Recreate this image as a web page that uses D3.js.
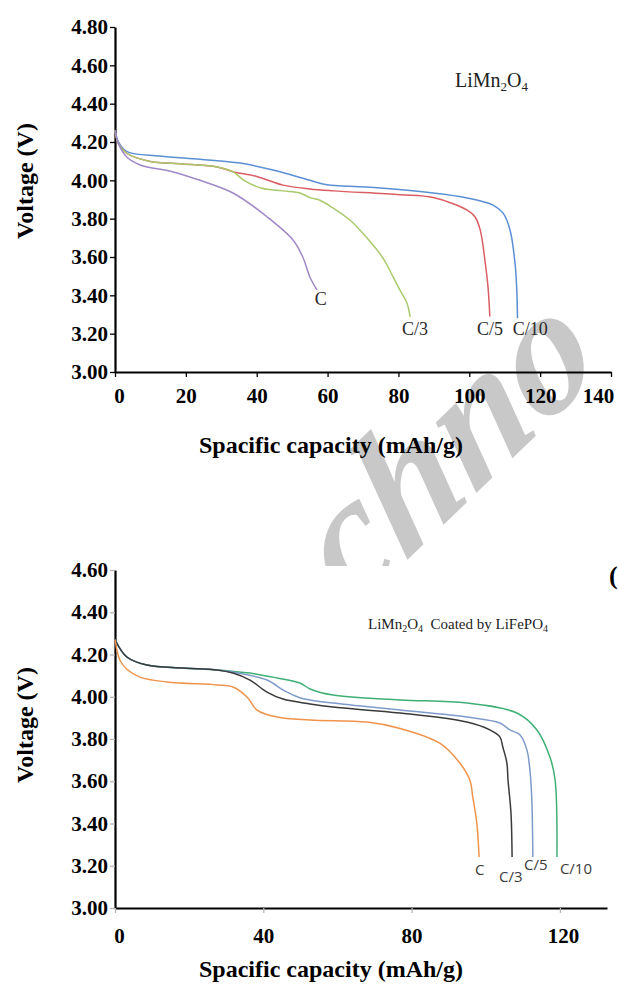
<!DOCTYPE html>
<html lang="en">
<head>
<meta charset="UTF-8">
<title>Discharge curves</title>
<script src="https://d3js.org/d3.v7.min.js"></script>
<style>
  body{margin:0;background:#fff;}
  svg text{font-family:"Liberation Serif","Times New Roman",serif;}
  .tick text{font-weight:bold;font-size:21px;fill:#000;}
  .axis-title{font-weight:bold;font-size:24px;fill:#000;}
</style>
</head>
<body>
<svg id="chart" width="618" height="995"></svg>
<script>
// ---- top panel: LiMn2O4 ----
const topCapC10 = [0, 1, 3.4, 12.7, 24, 35.3, 44.6, 55, 59.8, 71.1, 89.8, 99.4, 106.7, 109.5, 111.5, 112.9, 113.4, 113.6];
const topVC10   = [4.26, 4.20, 4.15, 4.127, 4.11, 4.09, 4.054, 4.0, 3.977, 3.965, 3.934, 3.908, 3.871, 3.83, 3.741, 3.569, 3.43, 3.28];
const topCapC5  = [0, 1, 3.4, 9.6, 19.2, 28.8, 33.3, 40, 47.4, 55, 61.7, 80.4, 89.8, 99.4, 101.6, 103.1, 104.5, 105.3, 105.8];
const topVC5    = [4.26, 4.19, 4.14, 4.10, 4.085, 4.07, 4.045, 4.02, 3.975, 3.955, 3.945, 3.925, 3.91, 3.845, 3.81, 3.74, 3.57, 3.44, 3.29];
const topCapC3  = [0, 1, 3.4, 9.6, 19.2, 28.8, 33.3, 36.4, 41.2, 47.4, 52.2, 55, 58, 61.5, 66.3, 71.1, 75.6, 78.5, 80.4, 82.4, 83.3];
const topVC3    = [4.26, 4.19, 4.14, 4.10, 4.085, 4.07, 4.045, 4.0, 3.96, 3.945, 3.934, 3.91, 3.895, 3.856, 3.793, 3.70, 3.595, 3.496, 3.428, 3.36, 3.287];
const topCapC1  = [0, 1, 3.4, 7.1, 16.4, 24, 33.3, 42.9, 50.2, 53, 55, 57];
const topVC1    = [4.26, 4.19, 4.12, 4.08, 4.044, 4.0, 3.934, 3.81, 3.69, 3.60, 3.496, 3.428];
const topYTicks = [3.0, 3.2, 3.4, 3.6, 3.8, 4.0, 4.2, 4.4, 4.6, 4.8];
const topXTicks = [0, 20, 40, 60, 80, 100, 120, 140];

// ---- bottom panel: LiMn2O4 coated by LiFePO4 ----
const botCapC10 = [0, 3.2, 8.6, 18.3, 27.5, 36.4, 43.7, 49.9, 52.6, 58.8, 76.9, 94.9, 108.4, 113.8, 117.3, 118.7, 119.2];
const botVC10   = [4.27, 4.188, 4.15, 4.136, 4.127, 4.112, 4.089, 4.065, 4.037, 4.008, 3.985, 3.97, 3.923, 3.843, 3.715, 3.606, 3.241];
const botCapC5  = [0, 3.2, 8.6, 18.3, 27.5, 31.8, 41, 45.5, 49.9, 52.6, 58.8, 76.9, 94.9, 103.8, 106.5, 109.2, 111.1, 111.9, 112.4, 112.7];
const botVC5    = [4.27, 4.188, 4.15, 4.136, 4.127, 4.117, 4.079, 4.03, 3.995, 3.985, 3.97, 3.937, 3.904, 3.876, 3.843, 3.82, 3.748, 3.653, 3.525, 3.241];
const botCapC3  = [0, 3.2, 8.6, 18.3, 27.5, 31.8, 36.4, 41, 45.3, 52.6, 58.8, 76.9, 94.9, 101.1, 103.8, 104.6, 105.7, 106, 106.8, 107.1];
const botVC3    = [4.27, 4.188, 4.15, 4.136, 4.127, 4.112, 4.079, 4.022, 3.989, 3.966, 3.951, 3.923, 3.88, 3.843, 3.81, 3.762, 3.686, 3.606, 3.45, 3.241];
const botCapC1  = [0, 1.3, 3.2, 6.7, 14, 27.5, 31.8, 35.6, 38.3, 43.7, 52.6, 68, 76.9, 87.6, 93, 95.7, 96.5, 97.6, 98.2];
const botVC1    = [4.27, 4.174, 4.13, 4.093, 4.07, 4.056, 4.046, 3.999, 3.937, 3.904, 3.89, 3.88, 3.85, 3.78, 3.686, 3.606, 3.525, 3.40, 3.241];
const botYTicks = [3.0, 3.2, 3.4, 3.6, 3.8, 4.0, 4.2, 4.4, 4.6];
const botXTicks = [0, 40, 80, 120];

const rateNames = ["C/10", "C/5", "C/3", "C"];

const svg = d3.select("#chart");

// watermark (behind everything, cut off where the lower figure starts)
svg.append("clipPath").attr("id", "wmclip")
  .append("rect").attr("x", 0).attr("y", 0).attr("width", 618).attr("height", 566);
svg.append("g").attr("clip-path", "url(#wmclip)")
  .append("text")
  .attr("transform", "translate(350,615) rotate(-44) skewX(-10)")
  .style("font-style", "italic")
  .style("font-weight", "bold")
  .style("font-size", "172px")
  .attr("fill", "#c8c8c8")
  .text("chno");

function drawPanel(opt) {
  const g = svg.append("g");
  const x = d3.scaleLinear().domain(opt.xDomain).range(opt.xRange);
  const y = d3.scaleLinear().domain(opt.yDomain).range(opt.yRange);

  //axes
  const yAxis = g.append("g")
    .attr("transform", `translate(${opt.xRange[0]},0)`)
    .call(d3.axisLeft(y).tickValues(opt.yTicks).tickFormat(d3.format(".2f"))
      .tickSize(5).tickSizeOuter(0).tickPadding(2));
  const xAxis = g.append("g")
    .attr("transform", `translate(0,${opt.yRange[0]})`)
    .call(d3.axisBottom(x).tickValues(opt.xTicks).tickFormat(d3.format("d"))
      .tickSize(5).tickSizeOuter(0).tickPadding(opt.xPad));
  [yAxis, xAxis].forEach(a => {
    a.select(".domain").attr("stroke", "#000").attr("stroke-width", 2.2);
    a.selectAll(".tick line").attr("stroke", opt.tickColor).attr("stroke-width", 1.3);
  });
  // nudge first/last x labels like the original
  xAxis.selectAll(".tick text").filter(d => d === 0).attr("dx", 4);
  if (opt.lastLabelShift) {
    xAxis.selectAll(".tick text").filter(d => d === opt.xTicks[opt.xTicks.length - 1]).attr("dx", opt.lastLabelShift);
  }

  //curves
  const line = d3.line().x(d => x(d[0])).y(d => y(d[1])).curve(d3.curveCatmullRom.alpha(0.5));
  opt.series.forEach(s => {
    g.append("path")
      .datum(d3.zip(s.cap, s.v))
      .attr("fill", "none")
      .attr("stroke", s.color)
      .attr("stroke-width", 1.5)
      .attr("d", line);
    g.append("text")
      .attr("x", x(s.at[0]))
      .attr("y", y(s.at[1]))
      .attr("fill", opt.labelColor)
      .style("font-family", opt.labelFont)
      .style("font-size", opt.labelSize)
      .text(s.name);
  });

  //axis titles
  g.append("text").attr("class", "axis-title")
    .attr("x", 331).attr("y", opt.xTitleY)
    .attr("text-anchor", "middle")
    .text("Spacific capacity (mAh/g)");
  g.append("text").attr("class", "axis-title")
    .attr("transform", `translate(33,${opt.yTitleY}) rotate(-90)`)
    .attr("text-anchor", "middle")
    .text("Voltage (V)");
  return g;
}

const topPanel = drawPanel({
  xDomain: [0, 140], xRange: [115, 611],
  yDomain: [3.0, 4.8], yRange: [372, 27],
  xTicks: topXTicks, yTicks: topYTicks, xPad: 11, lastLabelShift: -13,
  tickColor: "#000",
  labelFont: '"Liberation Serif", serif', labelSize: "18px", labelColor: "#2a2a2a",
  xTitleY: 453, yTitleY: 181,
  series: [
    {name: rateNames[0], cap: topCapC10, v: topVC10, color: "#5b8fd4", at: [112.3, 3.193]},
    {name: rateNames[1], cap: topCapC5, v: topVC5, color: "#da5d63", at: [102.2, 3.193]},
    {name: rateNames[2], cap: topCapC3, v: topVC3, color: "#a9c96a", at: [81, 3.193]},
    {name: rateNames[3], cap: topCapC1, v: topVC1, color: "#9f89c8", at: [56.4, 3.35]}
  ]
});

const bottomPanel = drawPanel({
  xDomain: [0, 132.7], xRange: [115, 607],
  yDomain: [3.0, 4.6], yRange: [908, 570],
  xTicks: botXTicks, yTicks: botYTicks, xPad: 15, lastLabelShift: 3,
  tickColor: "#b5b5b5",
  labelFont: '"Open Sans", sans-serif', labelSize: "15px", labelColor: "#3c3c3c",
  xTitleY: 977, yTitleY: 725,
  series: [
    {name: rateNames[0], cap: botCapC10, v: botVC10, color: "#3fb075", at: [120, 3.161]},
    {name: rateNames[1], cap: botCapC5, v: botVC5, color: "#7e9bcc", at: [110.3, 3.18]},
    {name: rateNames[2], cap: botCapC3, v: botVC3, color: "#3a3a3a", at: [103.6, 3.123]},
    {name: rateNames[3], cap: botCapC1, v: botVC1, color: "#f0944c", at: [97.1, 3.156]}
  ]
});

// panel captions with subscripts
const t1 = svg.append("text").attr("x", 455).attr("y", 87).style("font-size", "20px").attr("fill", "#222");
t1.append("tspan").text("LiMn");
t1.append("tspan").attr("dy", 4).style("font-size", "13px").text("2");
t1.append("tspan").attr("dy", -4).text("O");
t1.append("tspan").attr("dy", 4).style("font-size", "13px").text("4");

const t2 = svg.append("text").attr("x", 368).attr("y", 629).style("font-size", "15px").attr("fill", "#222");
t2.append("tspan").text("LiMn");
t2.append("tspan").attr("dy", 3).style("font-size", "10px").text("2");
t2.append("tspan").attr("dy", -3).text("O");
t2.append("tspan").attr("dy", 3).style("font-size", "10px").text("4");
t2.append("tspan").attr("dy", -3).text("\u00a0\u00a0Coated by LiFePO");
t2.append("tspan").attr("dy", 3).style("font-size", "10px").text("4");

// bracket fragment at the right edge
svg.append("text").attr("x", 609).attr("y", 584)
  .style("font-weight", "bold").style("font-size", "26px").text("(");
</script>
</body>
</html>
